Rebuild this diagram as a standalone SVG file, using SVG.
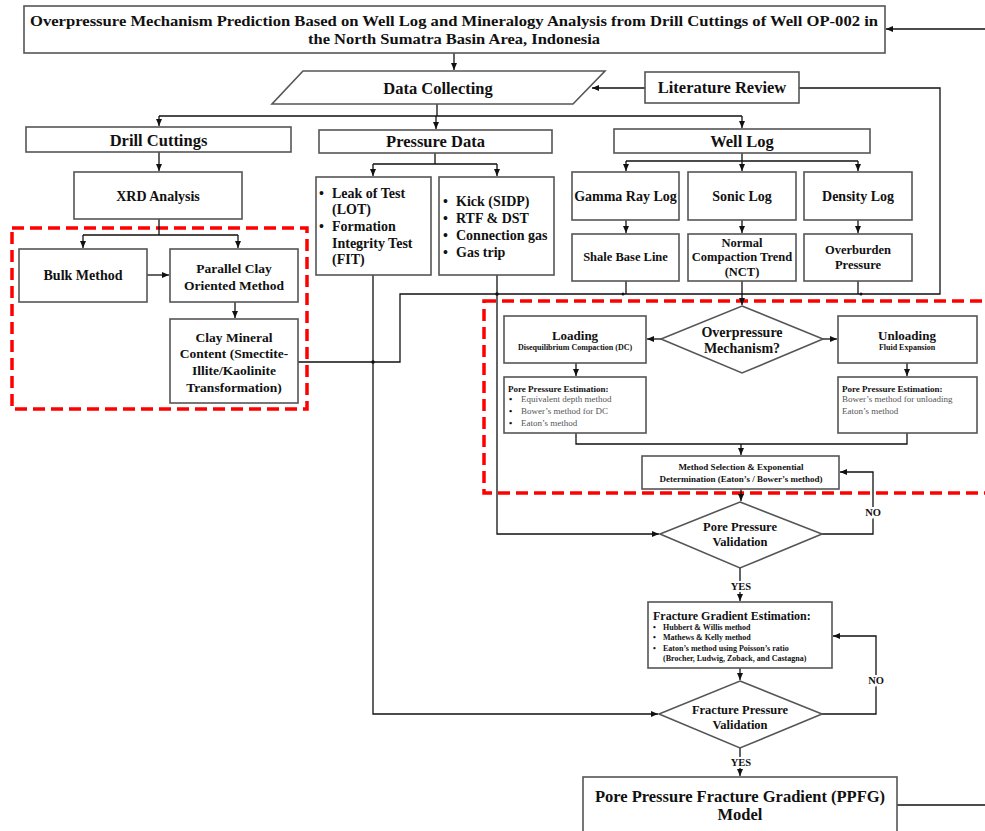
<svg xmlns="http://www.w3.org/2000/svg" width="985" height="831" viewBox="0 0 985 831">
<defs>
<marker id="ah" markerWidth="7" markerHeight="6" refX="7" refY="3" orient="auto" markerUnits="userSpaceOnUse">
<path d="M0,0 L7,3 L0,6 z" fill="#111"/>
</marker>
<style>
.box{fill:#fff;stroke:#555;stroke-width:1.6}
.red{fill:none;stroke:#f00;stroke-width:3.5;stroke-dasharray:12 6}
.ln{fill:none;stroke:#111;stroke-width:1.3}
.ar{fill:none;stroke:#111;stroke-width:1.3;marker-end:url(#ah)}
text{font-family:"Liberation Serif","Times New Roman",serif;font-weight:bold;fill:#111}
.c{text-anchor:middle}
.h{font-size:16.5px}
.m{font-size:14px}
.s{font-size:12.5px}
.t{font-size:9px}
.g{font-weight:normal;fill:#555;font-size:9px}
.lbl{font-size:10.5px;text-anchor:middle;stroke:#fff;stroke-width:4;paint-order:stroke}
</style>
</defs>
<rect width="985" height="831" fill="#fff"/>
<rect class="red" x="12" y="228" width="295" height="181"/>
<rect class="red" x="484" y="301" width="520" height="192"/>

<g id="connectors">
<path class="ar" d="M985,29 H886"/>
<path class="ar" d="M454,53 V70"/>
<path class="ar" d="M645,88 H592"/>
<path class="ln" d="M437,104 V116 M159,116 H742"/>
<path class="ar" d="M159,116 V126"/>
<path class="ar" d="M436,116 V129"/>
<path class="ar" d="M742,116 V128"/>
<path class="ar" d="M159,152 V171"/>
<path class="ln" d="M159,219 V235 M83,235 H238"/>
<path class="ar" d="M83,235 V248"/>
<path class="ar" d="M238,235 V248"/>
<path class="ar" d="M147,275 H169"/>
<path class="ar" d="M235,302 V318"/>
<path class="ln" d="M298,362 H400 V294 H940 V88 H799"/>
<path class="ln" d="M435,153 V164 M373,164 H497"/>
<path class="ar" d="M373,164 V176"/>
<path class="ar" d="M497,164 V176"/>
<path class="ar" d="M373,275 V714 H658"/>
<path class="ar" d="M497,275 V534 H659"/>
<path class="ln" d="M742,153 V161 M626,161 H858"/>
<path class="ar" d="M626,161 V171"/>
<path class="ar" d="M742,161 V171"/>
<path class="ar" d="M858,161 V171"/>
<path class="ar" d="M626,220 V233"/>
<path class="ar" d="M742,220 V233"/>
<path class="ar" d="M858,220 V233"/>
<path class="ln" d="M626,281 V294 M858,281 V294"/>
<path class="ar" d="M742,281 V305"/>
<circle cx="373" cy="362" r="1.8" fill="#111"/>
<circle cx="497" cy="294" r="1.8" fill="#111"/>
<circle cx="623" cy="294" r="1.5" fill="#111"/>
<circle cx="861" cy="294" r="1.5" fill="#111"/>
<path class="ar" d="M661,339 H647"/>
<path class="ar" d="M823,339 H837"/>
<path class="ar" d="M576,363 V376"/>
<path class="ar" d="M907,363 V376"/>
<path class="ln" d="M576,433 V444 H907 V433"/>
<path class="ar" d="M741,444 V455"/>
<path class="ar" d="M741,489 V501"/>
<path class="ar" d="M822,534 H873 V472 H840"/>
<path class="ar" d="M740,568 V601"/>
<path class="ar" d="M740,668 V680"/>
<path class="ar" d="M822,714 H876 V636 H833"/>
<path class="ar" d="M740,748 V776"/>
<path class="ln" d="M897,805 H985"/>
<text class="lbl" x="873" y="515.5">NO</text>
<text class="lbl" x="741" y="589.5">YES</text>
<text class="lbl" x="876" y="683.5">NO</text>
<text class="lbl" x="741" y="765.5">YES</text>
</g>

<g id="title">
<rect class="box" x="24" y="6" width="861" height="47"/>
<text class="c" font-size="15" x="454" y="25.5" textLength="848" lengthAdjust="spacingAndGlyphs">Overpressure Mechanism Prediction Based on Well Log and Mineralogy Analysis from Drill Cuttings of Well OP-002 in</text>
<text class="c" font-size="15" x="454" y="44" textLength="292" lengthAdjust="spacingAndGlyphs">the North Sumatra Basin Area, Indonesia</text>
</g>
<g id="data-collecting">
<polygon class="box" points="303,71 605,71 573,104 272,104"/>
<text class="c h" x="438" y="93.5">Data Collecting</text>
</g>
<g id="literature-review">
<rect class="box" x="645" y="72" width="154" height="31"/>
<text class="c h" x="722" y="92.5">Literature Review</text>
</g>
<g id="drill-cuttings">
<rect class="box" x="26" y="127" width="265" height="25"/>
<text class="c h" x="158.5" y="145.5">Drill Cuttings</text>
</g>
<g id="pressure-data">
<rect class="box" x="319" y="130" width="233" height="23"/>
<text class="c h" x="435.5" y="146.5">Pressure Data</text>
</g>
<g id="well-log">
<rect class="box" x="614" y="129" width="256" height="24"/>
<text class="c h" x="742" y="146.5">Well Log</text>
</g>
<g id="xrd">
<rect class="box" x="74" y="172" width="168" height="47"/>
<text class="c m" x="158" y="201">XRD Analysis</text>
</g>
<g id="bulk">
<rect class="box" x="19" y="249" width="128" height="53"/>
<text class="c m" x="83" y="280">Bulk Method</text>
</g>
<g id="parallel">
<rect class="box" x="170" y="249" width="128" height="53"/>
<text class="c" font-size="13.5" x="234" y="272.5">Parallel Clay</text>
<text class="c" font-size="13.5" x="234" y="289.5">Oriented Method</text>
</g>
<g id="clay-mineral">
<rect class="box" x="170" y="319" width="128" height="84"/>
<text class="c" font-size="13.5" x="234" y="341.5">Clay Mineral</text>
<text class="c" font-size="13.5" x="234" y="357.5">Content (Smectite-</text>
<text class="c" font-size="13.5" x="234" y="374.5">Illite/Kaolinite</text>
<text class="c" font-size="13.5" x="234" y="391.5">Transformation)</text>
</g>
<g id="lot-fit">
<rect class="box" x="316" y="177" width="115" height="98"/>
<g class="m">
<text x="319" y="197.6">•</text><text x="332" y="197.6">Leak of Test</text>
<text x="332" y="213.6">(LOT)</text>
<text x="319" y="230.6">•</text><text x="332" y="230.6">Formation</text>
<text x="332" y="247.6">Integrity Test</text>
<text x="332" y="263.6">(FIT)</text>
</g>
</g>
<g id="kick">
<rect class="box" x="439" y="177" width="115" height="98"/>
<g class="m">
<text x="443" y="205.6">•</text><text x="456" y="205.6">Kick (SIDP)</text>
<text x="443" y="222.6">•</text><text x="456" y="222.6">RTF &amp; DST</text>
<text x="443" y="239.6">•</text><text x="456" y="239.6">Connection gas</text>
<text x="443" y="256.6">•</text><text x="456" y="256.6">Gas trip</text>
</g>
</g>
<g id="gamma-ray">
<rect class="box" x="572" y="172" width="107" height="48"/>
<text class="c m" x="625.5" y="200.6">Gamma Ray Log</text>
</g>
<g id="sonic">
<rect class="box" x="688" y="172" width="108" height="48"/>
<text class="c m" x="742" y="200.6">Sonic Log</text>
</g>
<g id="density">
<rect class="box" x="804" y="172" width="108" height="48"/>
<text class="c m" x="858" y="200.6">Density Log</text>
</g>
<g id="shale">
<rect class="box" x="572" y="234" width="107" height="47"/>
<text class="c s" x="625.5" y="261">Shale Base Line</text>
</g>
<g id="nct">
<rect class="box" x="688" y="234" width="108" height="47"/>
<text class="c s" x="742" y="247">Normal</text>
<text class="c s" x="742" y="261">Compaction Trend</text>
<text class="c s" x="742" y="276">(NCT)</text>
</g>
<g id="overburden">
<rect class="box" x="804" y="234" width="108" height="47"/>
<text class="c s" x="858" y="254">Overburden</text>
<text class="c s" x="858" y="269">Pressure</text>
</g>
<g id="mechanism">
<polygon class="box" points="742,306 823,339 742,373 661,339"/>
<text class="c m" x="742" y="337">Overpressure</text>
<text class="c m" x="742" y="353">Mechanism?</text>
</g>
<g id="loading">
<rect class="box" x="504" y="316" width="142" height="47"/>
<text class="c" font-size="13" x="575" y="339.5">Loading</text>
<text class="c" font-size="8" x="575" y="350">Disequilibrium Compaction (DC)</text>
</g>
<g id="unloading">
<rect class="box" x="838" y="316" width="139" height="47"/>
<text class="c" font-size="13" x="907" y="339.5">Unloading</text>
<text class="c" font-size="8" x="907" y="350">Fluid Expansion</text>
</g>
<g id="ppe-loading">
<rect class="box" x="504" y="377" width="142" height="56"/>
<text class="t" x="508" y="392">Pore Pressure Estimation:</text>
<text class="t" x="509" y="402">•</text><text class="g" x="521" y="402">Equivalent depth method</text>
<text class="t" x="509" y="414">•</text><text class="g" x="521" y="414">Bower’s method for DC</text>
<text class="t" x="509" y="426">•</text><text class="g" x="521" y="426">Eaton’s method</text>
</g>
<g id="ppe-unloading">
<rect class="box" x="838" y="377" width="139" height="56"/>
<text class="t" x="842" y="392">Pore Pressure Estimation:</text>
<text class="g" x="842" y="402">Bower’s method for unloading</text>
<text class="g" x="842" y="414">Eaton’s method</text>
</g>
<g id="method-selection">
<rect class="box" x="642" y="456" width="197" height="33"/>
<text class="c t" x="741" y="470">Method Selection &amp; Exponential</text>
<text class="c t" x="741" y="482">Determination (Eaton’s / Bower’s method)</text>
</g>
<g id="pp-validation">
<polygon class="box" points="740,502 822,534 740,568 660,534"/>
<text class="c" font-size="12.5" x="740" y="531">Pore Pressure</text>
<text class="c" font-size="12.5" x="740" y="546">Validation</text>
</g>
<g id="fg-estimation">
<rect class="box" x="648" y="602" width="184" height="66"/>
<text font-size="12" x="653" y="620">Fracture Gradient Estimation:</text>
<g font-size="8">
<text x="653" y="630">•</text><text x="663" y="630">Hubbert &amp; Willis method</text>
<text x="653" y="640">•</text><text x="663" y="640">Mathews &amp; Kelly method</text>
<text x="653" y="651">•</text><text x="663" y="651">Eaton’s method using Poisson’s ratio</text>
<text x="663" y="661">(Brocher, Ludwig, Zoback, and Castagna)</text>
</g>
</g>
<g id="fp-validation">
<polygon class="box" points="740,681 822,714 740,748 659,714"/>
<text class="c" font-size="12.5" x="740" y="714">Fracture Pressure</text>
<text class="c" font-size="12.5" x="740" y="729">Validation</text>
</g>
<g id="ppfg">
<rect class="box" x="583" y="777" width="314" height="70"/>
<text class="c" font-size="16.5" x="740" y="801.5">Pore Pressure Fracture Gradient (PPFG)</text>
<text class="c" font-size="16.5" x="740" y="819.5">Model</text>
</g>
</svg>
